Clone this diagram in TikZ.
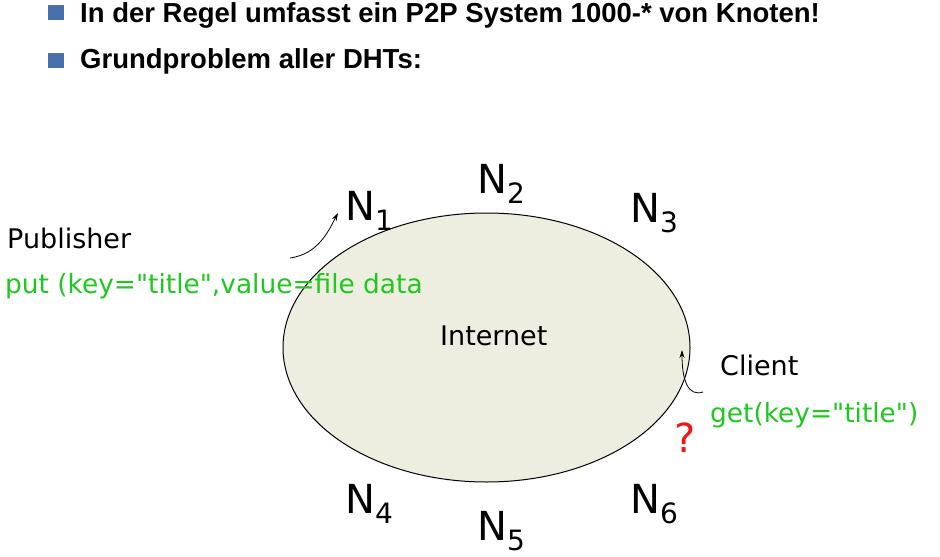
\documentclass[tikz,border=0pt]{standalone}
\usepackage{fontspec}
\setmainfont{DejaVu Sans}[Ligatures=TeXOff]
\newfontfamily\headfont{Liberation Sans}
\usepackage{tikz}
\usetikzlibrary{arrows.meta}

\definecolor{ringfill}{RGB}{238,238,224}
\definecolor{keygreen}{RGB}{30,200,30}
\definecolor{bulletblue}{RGB}{72,112,170}
\definecolor{askred}{RGB}{235,25,25}

% node name with lowered index
\newcommand{\peername}[1]{N\raisebox{-10pt}{\fontsize{28}{28}\selectfont #1}}

\tikzset{
  bulletsq/.style={fill=bulletblue, minimum width=16pt, minimum height=15pt, inner sep=0pt},
  headline/.style={anchor=base west, inner sep=0pt, font=\headfont\bfseries\fontsize{27.5}{27.5}\selectfont},
  peer/.style={anchor=base west, inner sep=0pt, font=\fontsize{40}{40}\selectfont},
  role/.style={anchor=base west, inner sep=0pt, font=\fontsize{27}{27}\selectfont},
  call/.style={anchor=base west, inner sep=0pt, font=\fontsize{26.4}{26.4}\selectfont, text=keygreen},
  hop/.style={-{Stealth[length=8pt,width=5pt]}, line width=0.8pt}
}

\begin{document}
\begin{tikzpicture}[x=1pt,y=-1pt]
    \useasboundingbox (0,0) rectangle (940,557);

    % Bullet points
    \node[bulletsq] (sq1) at (56,12) {};
    \node[headline] (h1) at (80,22) {In der Regel umfasst ein P2P System 1000-* von Knoten!};
    \node[bulletsq] (sq2) at (56,60) {};
    \node[headline] (h2) at (80,68) {Grundproblem aller DHTs:};

    % The internet
    \draw[fill=ringfill, line width=1pt] (486.5,347.5) ellipse [x radius=203.5, y radius=134.5];
    \node[role] (net) at (440,345) {Internet};

    % The nodes
    \node[peer] (n1) at (345,220) {\peername{1}};
    \node[peer] (n2) at (477,193) {\peername{2}};
    \node[peer] (n3) at (630,222) {\peername{3}};
    \node[peer] (n4) at (345,513) {\peername{4}};
    \node[peer] (n5) at (477,540) {\peername{5}};
    \node[peer] (n6) at (630,513) {\peername{6}};

    % Publisher side
    \node[role] (pub) at (7,248) {Publisher};
    \node[call] (put) at (5,293) {put (key="title",value=file data};
    \coordinate (pubfrom) at (290,258);
    \coordinate (pubto) at (338,213);
    \draw[hop] (pubfrom) .. controls (318,254) and (328,232) .. (pubto);

    % Client side
    \node[role] (cli) at (720,375) {Client};
    \node[call] (get) at (710,422) {get(key="title")};
    \coordinate (clifrom) at (703,392);
    \coordinate (clito) at (682,350);
    \draw[hop] (clifrom) .. controls (688,397) and (682,380) .. (clito);
    \node[anchor=base, inner sep=0pt, text=askred, font=\fontsize{40}{40}\selectfont] (ask) at (685,452) {?};
\end{tikzpicture}
\end{document}
